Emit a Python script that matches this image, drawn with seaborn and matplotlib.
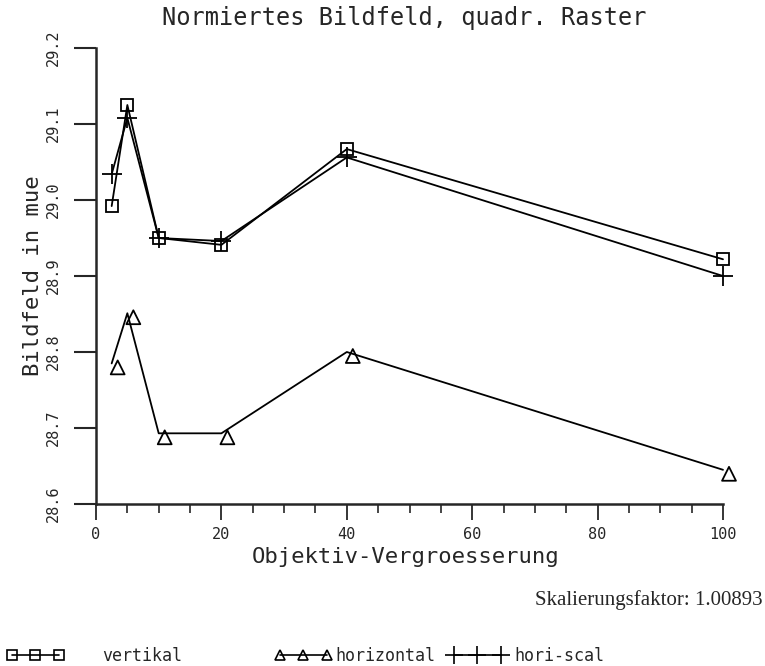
import numpy as np
import pandas as pd
import matplotlib
matplotlib.use("Agg")
import matplotlib.pyplot as plt
import matplotlib.transforms as mtransforms
from matplotlib.lines import Line2D
from matplotlib.ticker import MultipleLocator
import seaborn as sns

# ---- data ----
magnification = [2.5, 5, 10, 20, 40, 100]
vertikal = [28.992, 29.125, 28.950, 28.941, 29.067, 28.922]
horizontal = [28.785, 28.851, 28.693, 28.693, 28.800, 28.645]
hori_scal = [29.034, 29.108, 28.950, 28.946, 29.056, 28.900]
series_names = ["vertikal", "horizontal", "hori-scal"]
x_ticks = [0, 20, 40, 60, 80, 100]
y_ticks = [28.6, 28.7, 28.8, 28.9, 29.0, 29.1, 29.2]
title_text = "Normiertes Bildfeld, quadr. Raster"
x_label = "Objektiv-Vergroesserung"
y_label = "Bildfeld in mue"
note_text = "Skalierungsfaktor: 1.00893"

sns.set_style("ticks")
plt.rcParams["font.family"] = ["DejaVu Sans Mono", "DejaVu Sans"]

W, H = 765, 666
fig = plt.figure(figsize=(W / 100, H / 100), dpi=100)
ax = fig.add_axes([96 / W, 1 - 504 / H, (723 - 96) / W, (504 - 48) / H])

df = pd.DataFrame({"x": magnification, "vertikal": vertikal,
                   "horizontal": horizontal, "hori-scal": hori_scal})

lw = 1.3
# vertikal: squares
sns.lineplot(data=df, x="x", y="vertikal", ax=ax, color="black", lw=lw,
             marker="s", markersize=8.5, markerfacecolor="none",
             markeredgecolor="black", markeredgewidth=1.3, clip_on=False)
# hori-scal: plus
sns.lineplot(data=df, x="x", y="hori-scal", ax=ax, color="black", lw=lw,
             marker="+", markersize=15, markeredgecolor="black",
             markeredgewidth=1.3, clip_on=False)
# horizontal: line, then triangle markers slightly offset (as in the plotter output)
sns.lineplot(data=df, x="x", y="horizontal", ax=ax, color="black", lw=lw,
             clip_on=False)
sns.scatterplot(data=df, x="x", y="horizontal", ax=ax, marker="^", s=100,
                facecolor="none", edgecolor="black", linewidth=1.3, zorder=3,
                clip_on=False)
offset = mtransforms.ScaledTranslation(6 / 100, -4 / 100, fig.dpi_scale_trans)
coll = ax.collections[-1]
coll.set_offset_transform(coll.get_offset_transform() + offset)

ax.set_xlim(0, 100)
ax.set_ylim(28.6, 29.2)
ax.set_xticks(x_ticks)
ax.set_xticklabels([str(v) for v in x_ticks], fontsize=11)
ax.xaxis.set_minor_locator(MultipleLocator(5))
ax.set_yticks(y_ticks)
ax.set_yticklabels([f"{v:.1f}" for v in y_ticks], rotation=90, va="center", fontsize=11)

ax.tick_params(axis="y", which="major", length=16, width=1.5, pad=9, direction="out")
ax.tick_params(axis="x", which="major", length=11.5, width=1.3, pad=5, direction="out")
ax.tick_params(axis="x", which="minor", length=6.5, width=1.2, direction="out")

sns.despine(ax=ax)
for s in ["left", "bottom"]:
    ax.spines[s].set_linewidth(1.8)

ax.set_xlabel(x_label, fontsize=16, va="center")
ax.xaxis.set_label_coords(0.493, (504 - 557) / 456)
ax.set_ylabel(y_label, fontsize=16, va="center")
ax.yaxis.set_label_coords((33 - 96) / 627, 0.5)

fig.text(404 / W, 1 - 18 / H, title_text, ha="center", va="center", fontsize=17)
fig.text(763 / W, 1 - 600 / H, note_text, ha="right", va="center",
         fontsize=15, family="Liberation Serif")

# legend: three entries, placed as in the reference
handles = [
    Line2D([], [], color="black", lw=1.2, marker="s", markersize=7,
           markerfacecolor="none", markeredgewidth=1.2),
    Line2D([], [], color="black", lw=1.2, marker="^", markersize=7,
           markerfacecolor="none", markeredgewidth=1.2),
    Line2D([], [], color="black", lw=1.2, marker="+", markersize=13,
           markeredgewidth=1.2),
]
starts = [7, 275, 449]
pads = [2.3, 0.25, 0.5]
for h, name, x0, p in zip(handles, series_names, starts, pads):
    fig.legend([h], [name], loc="center left",
               bbox_to_anchor=(x0 / W, 1 - 656 / H),
               frameon=False, numpoints=3, handlelength=3.4,
               handletextpad=p, borderpad=0, borderaxespad=0,
               fontsize=12)

fig.savefig("out.png", dpi=100)
